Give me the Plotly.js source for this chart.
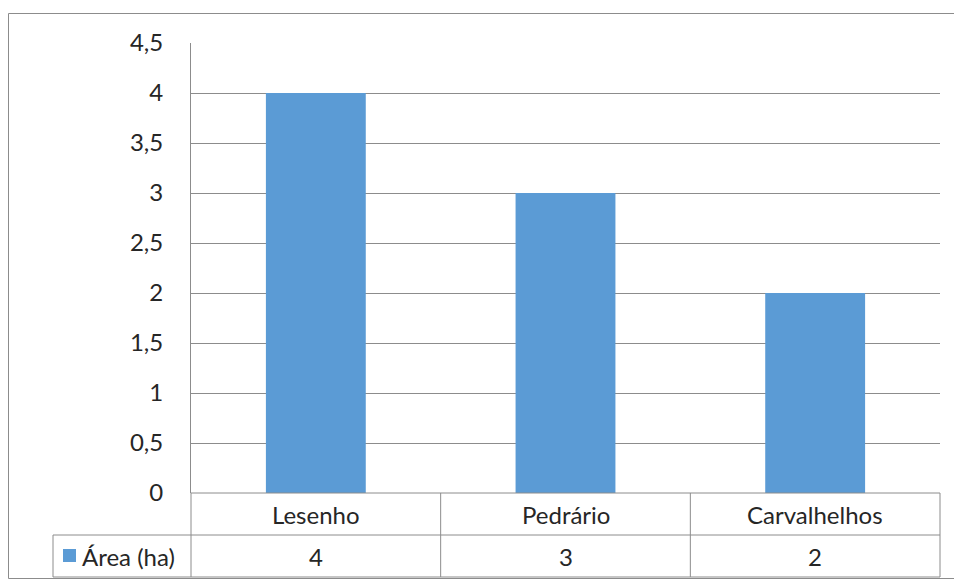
<!DOCTYPE html>
<html><head><meta charset="utf-8">
<script src="https://cdn.plot.ly/plotly-3.0.1.min.js"></script>
<style>html,body{margin:0;padding:0;background:#fff}#chart{width:954px;height:580px}</style>
</head><body><div id="chart"></div>
<script>
const categories = ['Lesenho', 'Pedrário', 'Carvalhelhos'];
const seriesName = 'Área (ha)';
const values = [4, 3, 2];
const yTicks = [0, 0.5, 1, 1.5, 2, 2.5, 3, 3.5, 4, 4.5];

const W = 954, H = 580;
const mL = 191, mR = 14, mT = 43, mB = 87;
const pw = W - mL - mR, ph = H - mT - mB;
const rowH = 42;
const gray = '#8c8c8c';
const font = {family: 'Lato, Open Sans, sans-serif', size: 24, color: '#262626'};
const n = categories.length;

const py = px => -(px) / ph;        // pixels below plot bottom -> paper y
const pxX = px => (px - mL) / pw;   // absolute pixel x -> paper x

const shapes = [];
for (let i = 0; i <= n; i++) {
  shapes.push({type: 'line', xref: 'x domain', yref: 'paper', x0: i / n, x1: i / n,
    y0: 0, y1: py(2 * rowH), line: {color: gray, width: 1}});
}
shapes.push({type: 'line', xref: 'paper', yref: 'paper', x0: 0, x1: 1, y0: 0, y1: 0,
  line: {color: gray, width: 1}});
[1, 2].forEach(r => shapes.push({type: 'line', xref: 'paper', yref: 'paper',
  x0: pxX(53), x1: 1, y0: py(r * rowH), y1: py(r * rowH), line: {color: gray, width: 1}}));
shapes.push({type: 'line', xref: 'paper', yref: 'paper', x0: pxX(53), x1: pxX(53),
  y0: py(rowH), y1: py(2 * rowH), line: {color: gray, width: 1}});
shapes.push({type: 'rect', xref: 'paper', yref: 'paper', x0: pxX(63), x1: pxX(76),
  y0: py(rowH + 14), y1: py(rowH + 27), fillcolor: '#5B9BD5', line: {width: 0}});
shapes.push({type: 'rect', xref: 'paper', yref: 'paper', x0: pxX(8.5), x1: pxX(960),
  y0: py(578.5 - (H - mB)), y1: 1 + (mT - 13.5) / ph,
  line: {color: gray, width: 1}, fillcolor: 'rgba(0,0,0,0)'});

const annotations = [];
categories.forEach((c, i) => {
  annotations.push({x: c, xref: 'x', yref: 'paper', y: py(rowH / 2), text: c, showarrow: false,
    font: font, xanchor: 'center', yanchor: 'middle'});
  annotations.push({x: c, xref: 'x', yref: 'paper', y: py(rowH * 1.5), text: String(values[i]).replace('.', ','),
    showarrow: false, font: font, xanchor: 'center', yanchor: 'middle'});
});
annotations.push({x: pxX(80), xref: 'paper', yref: 'paper', y: py(rowH * 1.5), text: seriesName,
  showarrow: false, font: font, xanchor: 'left', yanchor: 'middle'});

const trace = {type: 'bar', x: categories, y: values, name: seriesName,
  marker: {color: '#5B9BD5', line: {width: 0}}, width: 0.4, hoverinfo: 'skip'};

const layout = {
  width: W, height: H,
  margin: {l: mL, r: mR, t: mT, b: mB, pad: 0},
  paper_bgcolor: '#fff', plot_bgcolor: '#fff',
  showlegend: false,
  separators: ',.',
  font: font,
  xaxis: {type: 'category', range: [-0.5, n - 0.5], showticklabels: false, ticks: '',
    showgrid: false, zeroline: false, showline: false, fixedrange: true},
  yaxis: {range: [0, 4.5], tickvals: yTicks, ticktext: yTicks.map(v => String(v).replace('.', ',')),
    showgrid: true, gridcolor: gray, gridwidth: 1, zeroline: false,
    showline: true, linecolor: gray, linewidth: 1, ticks: '', ticklabelstandoff: 22,
    tickfont: font, fixedrange: true},
  shapes: shapes,
  annotations: annotations
};
Plotly.newPlot('chart', [trace], layout, {displayModeBar: false, staticPlot: true});
</script></body></html>
